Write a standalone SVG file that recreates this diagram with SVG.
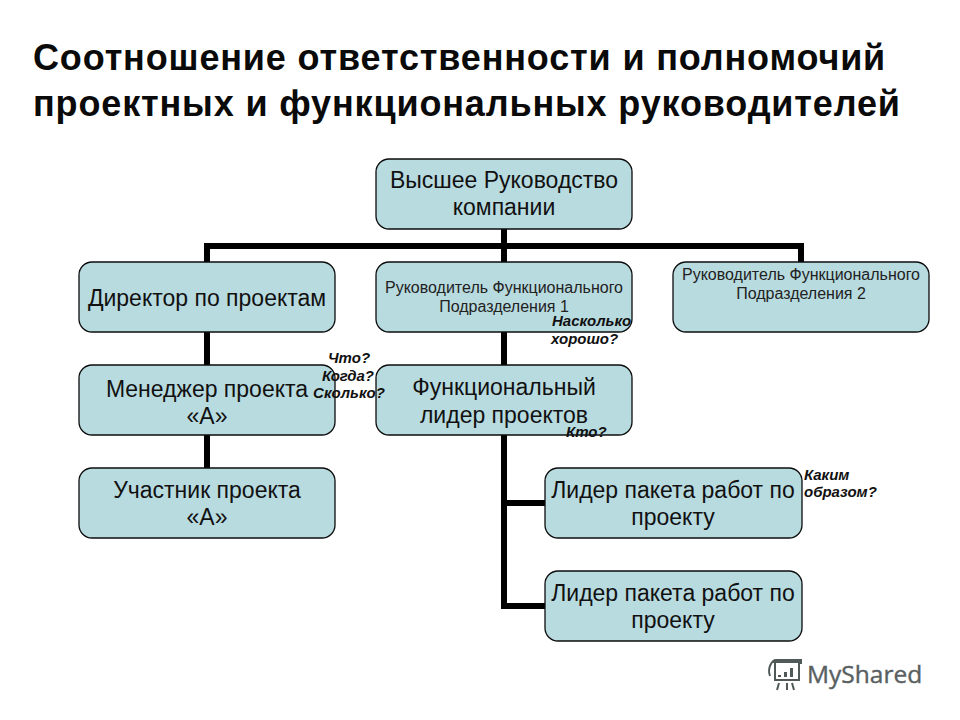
<svg xmlns="http://www.w3.org/2000/svg" width="960" height="720" viewBox="0 0 960 720">
<style>
text{font-family:"Liberation Sans",Arial,sans-serif;fill:#111}
.t{font-size:36px;font-weight:bold;fill:#0a0a0a;letter-spacing:.85px}
.box{fill:#b8dbe0;stroke:#0c0c0c;stroke-width:1.3}
.l{font-size:23px;text-anchor:middle}
.s{font-size:16px;text-anchor:middle;fill:#222}
.q{font-size:15px;font-weight:bold;font-style:italic}
.m{text-anchor:middle}
.c{fill:none;stroke:#000;stroke-width:6}
.ic{fill:none;stroke:#4f5a58;stroke-width:2}
</style>
<rect width="960" height="720" fill="#fff"/>
<g id="title">
<text class="t" x="33" y="70">Соотношение ответственности и полномочий</text>
<text class="t" x="33" y="116">проектных и функциональных руководителей</text>
</g>
<g id="connectors">
<path class="c" d="M504 229V262M207 262V246H801V262"/>
<path class="c" d="M207 332V468"/>
<path class="c" d="M504 332V365"/>
<path class="c" d="M504 435V606H545M504 503H545"/>
</g>
<g id="n1"><rect class="box" x="376" y="159" width="256" height="70" rx="13"/><text class="l" x="504" y="188">Высшее Руководство</text><text class="l" x="504" y="215">компании</text></g>
<g id="n2"><rect class="box" x="79" y="262" width="256" height="70" rx="13"/><text class="l" x="207" y="306">Директор по проектам</text></g>
<g id="n3"><rect class="box" x="376" y="262" width="256" height="70" rx="13"/><text class="s" x="504" y="293">Руководитель Функционального</text><text class="s" x="504" y="312">Подразделения 1</text></g>
<g id="n4"><rect class="box" x="673" y="262" width="256" height="70" rx="13"/><text class="s" x="801" y="280">Руководитель Функционального</text><text class="s" x="801" y="299">Подразделения 2</text></g>
<g id="n5"><rect class="box" x="79" y="365" width="256" height="70" rx="13"/><text class="l" x="207" y="397">Менеджер проекта</text><text class="l" x="207" y="424">«А»</text></g>
<g id="n6"><rect class="box" x="376" y="365" width="256" height="70" rx="13"/><text class="l" x="504" y="395">Функциональный</text><text class="l" x="504" y="423">лидер проектов</text></g>
<g id="n7"><rect class="box" x="79" y="468" width="256" height="70" rx="13"/><text class="l" x="207" y="498">Участник проекта</text><text class="l" x="207" y="525">«А»</text></g>
<g id="n8"><rect class="box" x="545" y="468" width="257" height="70" rx="13"/><text class="l" x="673" y="498">Лидер пакета работ по</text><text class="l" x="673" y="525">проекту</text></g>
<g id="n9"><rect class="box" x="545" y="571" width="257" height="70" rx="13"/><text class="l" x="673" y="601">Лидер пакета работ по</text><text class="l" x="673" y="628">проекту</text></g>
<g id="notes">
<text class="q m" x="349" y="363">Что?</text>
<text class="q m" x="348" y="381">Когда?</text>
<text class="q m" x="349" y="398">Сколько?</text>
<text class="q" x="552" y="326">Насколько</text>
<text class="q" x="551" y="344">хорошо?</text>
<text class="q" x="566" y="437">Кто?</text>
<text class="q" x="804" y="480">Каким</text>
<text class="q" x="804" y="497">образом?</text>
</g>
<g id="logo">
<path class="ic" d="M773 662H800M775 662V680H799V662M770 676C767 668 772 660 776 660H801V664"/>
<path d="M778 677h3v-2h-3zM784 677h3v-5h-3zM790 677h3v-9h-3z" fill="#4f5a58"/>
<path class="ic" d="M779 683L777 690M787 683V690M792 683L794 690"/>
<text x="807" y="683" font-size="24.5" style="font-family:'Open Sans','Noto Sans',sans-serif;fill:#59605f;stroke:#59605f;stroke-width:.4">MyShared</text>
</g>
</svg>
